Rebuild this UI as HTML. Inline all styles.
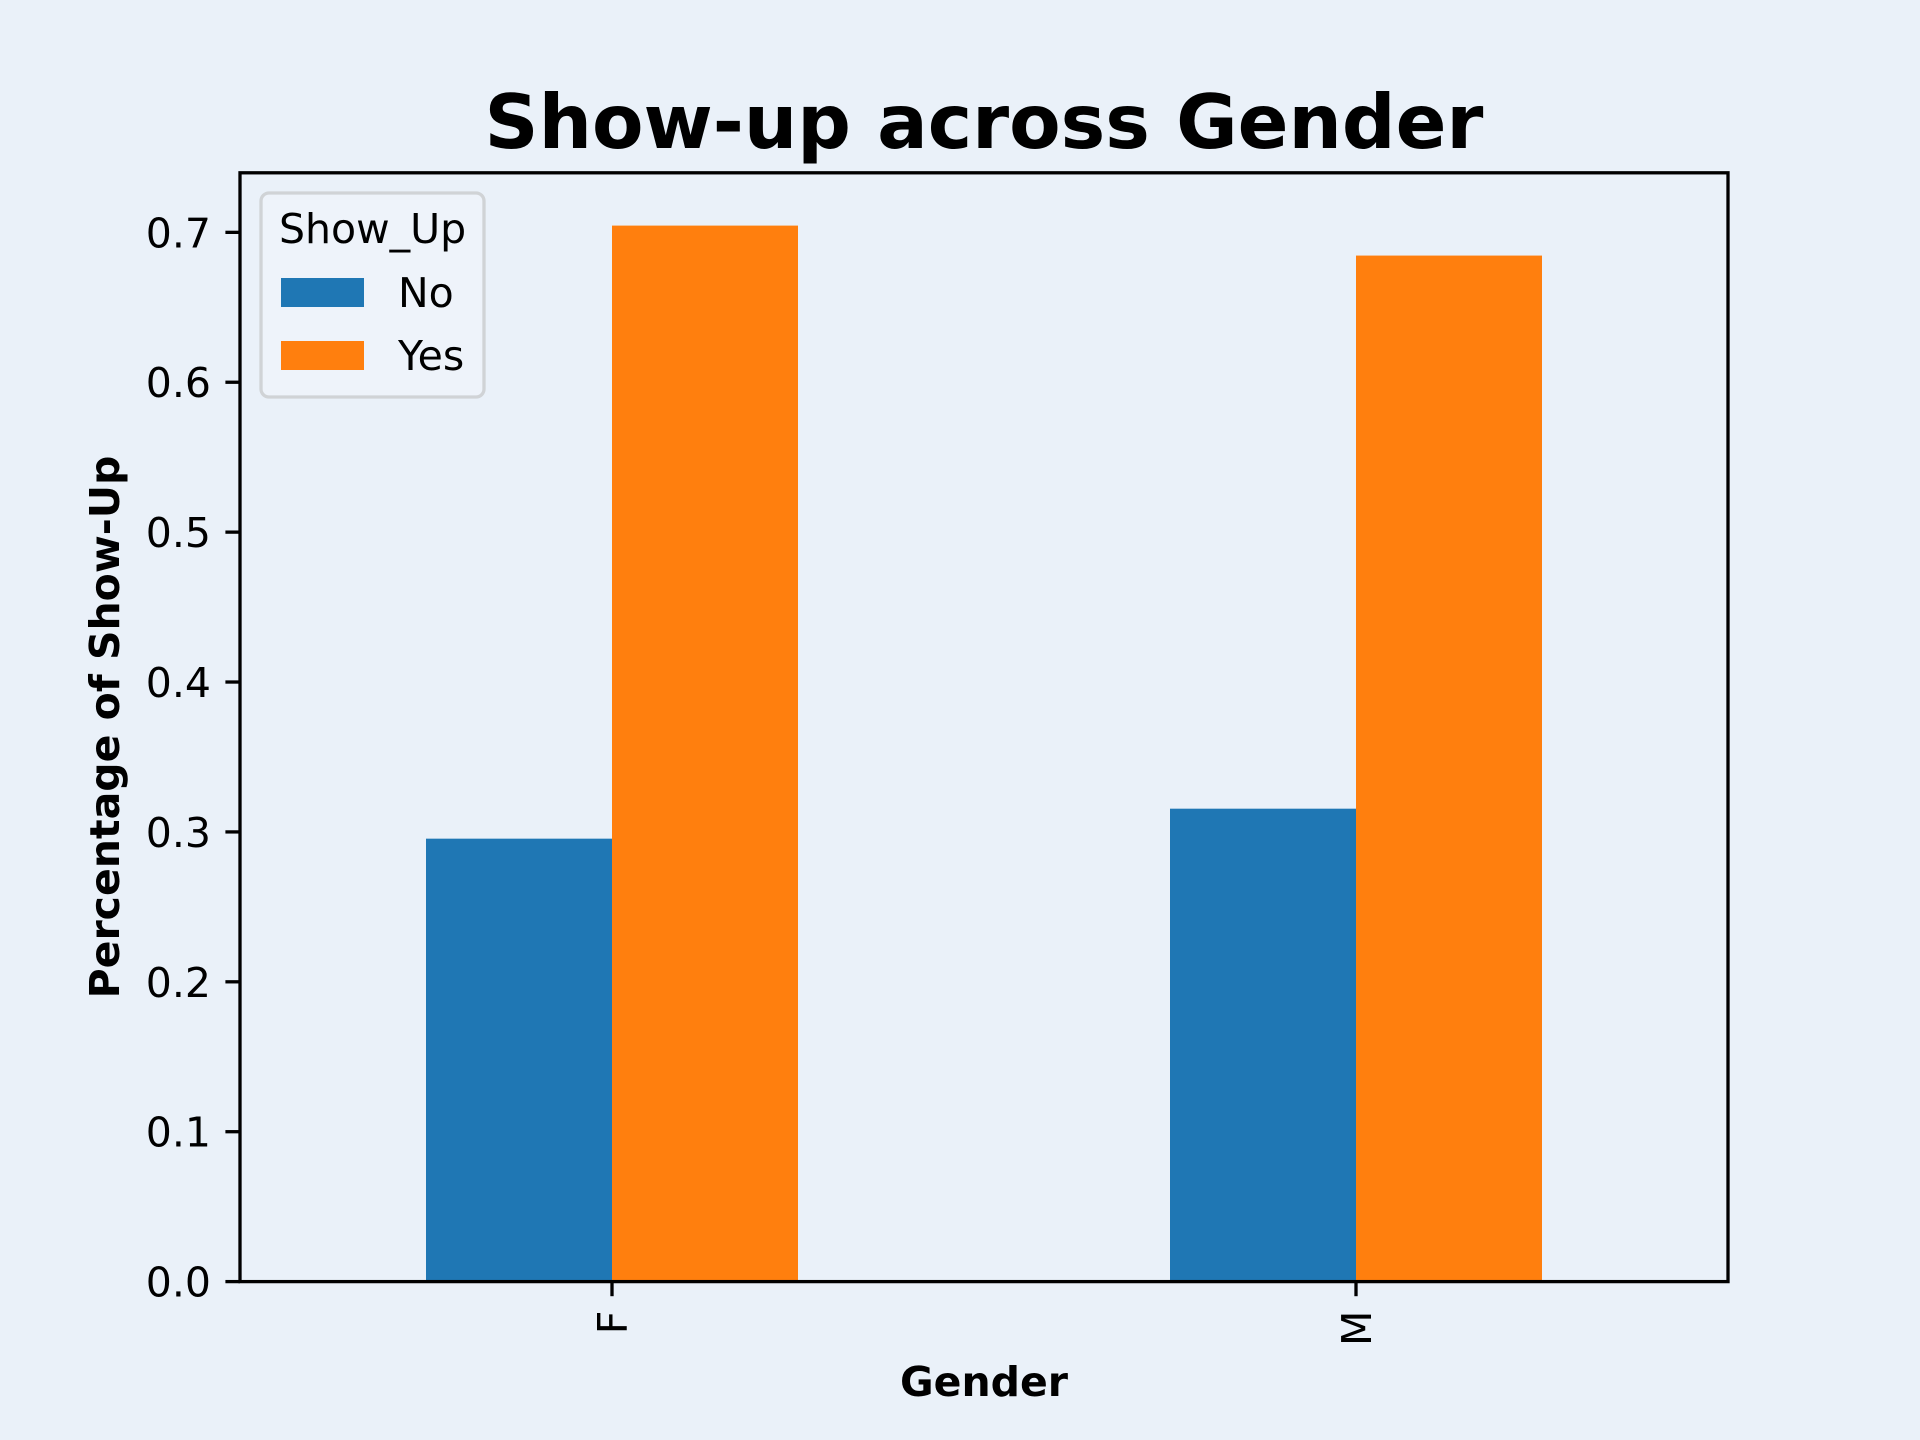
<!DOCTYPE html>
<html><head><meta charset="utf-8"><style>
html,body{margin:0;padding:0;background:#eaf1f9;}
svg{display:block;font-family:"DejaVu Sans","Liberation Sans",sans-serif;}
</style></head><body>
<svg id="chart" width="1920" height="1440" viewBox="0 0 1920 1440" xmlns="http://www.w3.org/2000/svg">
<rect width="1920" height="1440" fill="#eaf1f9"/>
<text x="984" y="148" text-anchor="middle" font-size="75" font-weight="bold">Show-up across Gender</text>
<g id="bars"></g>
<g id="yticks"></g>
<g id="xticks"></g>
<rect x="240" y="172.8" width="1488" height="1108.8" fill="none" stroke="#000" stroke-width="3.3"/>
<text transform="translate(119,727) rotate(-90)" text-anchor="middle" font-size="41" font-weight="bold">Percentage of Show-Up</text>
<text x="984" y="1396" text-anchor="middle" font-size="41" font-weight="bold">Gender</text>
<g>
<rect x="261" y="193" width="223" height="204" rx="8" fill="#eef3fa" stroke="#d0d3d6" stroke-width="3.3"/>
<text x="279" y="243" font-size="41">Show_Up</text>
<rect x="281" y="278" width="83" height="29" fill="#1f77b4"/>
<text x="398" y="307" font-size="41">No</text>
<rect x="281" y="341" width="83" height="29" fill="#ff7f0e"/>
<text x="398" y="370" font-size="41">Yes</text>
</g>
</svg>
<script>
const categories = ["F", "M"];
const seriesNames = ["No", "Yes"];
const noValues = [0.2955, 0.3155];
const yesValues = [0.7045, 0.6845];
const yTickValues = [0, 0.1, 0.2, 0.3, 0.4, 0.5, 0.6, 0.7];
const yTickLabels = ["0.0", "0.1", "0.2", "0.3", "0.4", "0.5", "0.6", "0.7"];

const NS = "http://www.w3.org/2000/svg";
const L = 240, R = 1728, T = 172.8, B = 1281.6;
const allVals = noValues.concat(yesValues);
const yMax = Math.max(...allVals) * 1.05;
function yScale(v){ return B - (v / yMax) * (B - T); }
function xScale(i){ return L + (i + 0.5) / categories.length * (R - L); }
const unit = (R - L) / categories.length;
const barW = unit * 0.25;
const colors = ["#1f77b4", "#ff7f0e"];
const series = [noValues, yesValues];

const gb = document.getElementById('bars');
series.forEach((vals, s) => {
  vals.forEach((v, i) => {
    const r = document.createElementNS(NS, 'rect');
    const x = xScale(i) + (s - 1) * barW;
    r.setAttribute('x', x);
    r.setAttribute('y', yScale(v));
    r.setAttribute('width', barW);
    r.setAttribute('height', B - yScale(v));
    r.setAttribute('fill', colors[s]);
    
    
    gb.appendChild(r);
  });
});

const gy = document.getElementById('yticks');
yTickValues.forEach((v, k) => {
  const y = yScale(v);
  const ln = document.createElementNS(NS, 'line');
  ln.setAttribute('x1', L - 14.6); ln.setAttribute('x2', L);
  ln.setAttribute('y1', y); ln.setAttribute('y2', y);
  ln.setAttribute('stroke', '#000'); ln.setAttribute('stroke-width', '3.3');
  
  
  gy.appendChild(ln);
  const t = document.createElementNS(NS, 'text');
  t.setAttribute('x', L - 29); t.setAttribute('y', y + 15);
  t.setAttribute('text-anchor', 'end'); t.setAttribute('font-size', '41');
  t.textContent = yTickLabels[k];
  
  
  gy.appendChild(t);
});

const gx = document.getElementById('xticks');
categories.forEach((c, i) => {
  const x = xScale(i);
  const ln = document.createElementNS(NS, 'line');
  ln.setAttribute('x1', x); ln.setAttribute('x2', x);
  ln.setAttribute('y1', B); ln.setAttribute('y2', B + 14.6);
  ln.setAttribute('stroke', '#000'); ln.setAttribute('stroke-width', '3.3');
  
  
  gx.appendChild(ln);
  const t = document.createElementNS(NS, 'text');
  t.setAttribute('transform', 'translate(' + (x + 15) + ',' + (B + 29) + ') rotate(-90)');
  t.setAttribute('text-anchor', 'end'); t.setAttribute('font-size', '41');
  t.textContent = c;
  
  
  gx.appendChild(t);
});
</script>
</body></html>
